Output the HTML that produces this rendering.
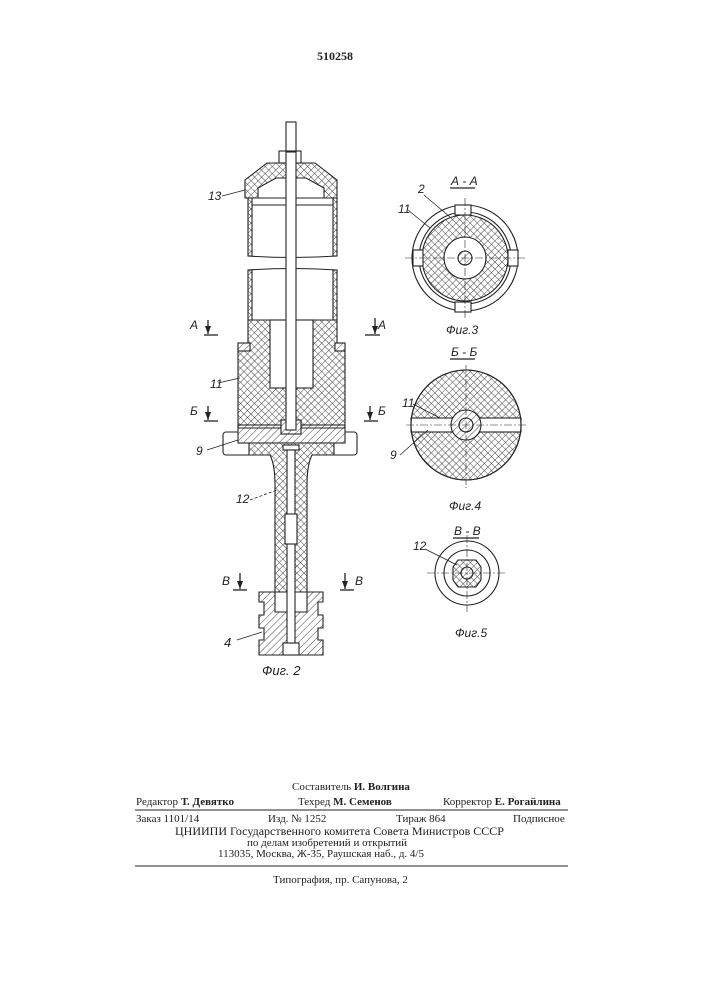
<!DOCTYPE html>
<html><head><meta charset="utf-8"><style>
html,body{margin:0;padding:0;background:#fff;}
body{width:707px;height:1000px;position:relative;overflow:hidden;font-family:"Liberation Serif","Noto Serif CJK SC",serif;color:#222;}
.t{position:absolute;font-size:11px;white-space:nowrap;line-height:12px;}
b{font-weight:bold;}
</style></head><body>
<svg width="707" height="1000" style="position:absolute;left:0;top:0" xmlns="http://www.w3.org/2000/svg">
<defs>
<pattern id="x" width="5" height="5" patternUnits="userSpaceOnUse" patternTransform="rotate(45)">
<rect width="5" height="5" fill="#fff"/><line x1="0" y1="0" x2="5" y2="0" stroke="#333" stroke-width="0.9"/><line x1="0" y1="0" x2="0" y2="5" stroke="#333" stroke-width="0.9"/></pattern>
<pattern id="h" width="5" height="5" patternUnits="userSpaceOnUse" patternTransform="rotate(45)">
<rect width="5" height="5" fill="#fff"/><line x1="0" y1="0" x2="0" y2="5" stroke="#333" stroke-width="0.9"/></pattern>
</defs>
<g stroke="#222" stroke-width="1.1" fill="none">
<rect x="286" y="122" width="10" height="30" fill="#fff"/>
<polygon points="267,163 315,163 337,180 337,198 245,198 245,180" fill="url(#x)"/>
<polygon points="258,188 276,178 306,178 324,188 324,198 258,198" fill="#fff"/>
<rect x="279" y="151" width="22" height="12" fill="#fff"/>
<rect x="248" y="198" width="4" height="58" fill="url(#x)"/>
<rect x="333" y="198" width="4" height="58" fill="url(#x)"/>
<line x1="252" y1="205" x2="333" y2="205"/>
<path d="M248,256 q44,3 89,0"/>
<path d="M248,270 q44,-3 89,0"/>
<rect x="248" y="270" width="4" height="50" fill="url(#x)"/>
<rect x="333" y="270" width="4" height="50" fill="url(#x)"/>
<polygon points="248,320 337,320 337,343 345,343 345,425 238,425 238,343 248,343" fill="url(#x)"/>
<rect x="270" y="320" width="43" height="68" fill="#fff"/>
<rect x="238" y="343" width="12" height="8" fill="url(#h)"/>
<rect x="335" y="343" width="10" height="8" fill="url(#h)"/>
<rect x="223" y="432" width="134" height="23" rx="3" fill="#fff"/>
<rect x="238" y="425" width="107" height="18" fill="url(#h)"/>
<line x1="238" y1="428" x2="345" y2="428"/>
<rect x="281" y="420" width="20" height="14" fill="url(#h)"/>
<path d="M249,443 L334,443 L334,455 L312,455 Q307,465 307,485 L307,592 L275,592 L275,485 Q275,465 270,455 L249,455 Z" fill="url(#x)"/>
<path d="M265,592 L275,592 L275,612 L307,612 L307,592 L323,592 L323,602 L318,602 L318,615 L323,615 L323,628 L318,628 L318,640 L323,640 L323,655 L259,655 L259,640 L264,640 L264,628 L259,628 L259,615 L264,615 L264,602 L259,602 L259,592 Z" fill="url(#h)"/>
<rect x="283" y="643" width="16" height="12" fill="#fff"/>
<rect x="286" y="152" width="10" height="278" fill="#fff"/>
<rect x="283" y="445" width="16" height="5" fill="#fff"/>
<rect x="287" y="450" width="8" height="193" fill="#fff"/>
<rect x="285" y="514" width="12" height="30" fill="#fff"/>
<g stroke-width="1.3">
<line x1="204" y1="335" x2="218" y2="335"/><line x1="208" y1="320" x2="208" y2="334"/>
<line x1="365" y1="335" x2="380" y2="335"/><line x1="375" y1="318" x2="375" y2="334"/>
<line x1="204" y1="421" x2="218" y2="421"/><line x1="208" y1="406" x2="208" y2="420"/>
<line x1="364" y1="421" x2="378" y2="421"/><line x1="370" y1="406" x2="370" y2="420"/>
<line x1="233" y1="590" x2="247" y2="590"/><line x1="240" y1="573" x2="240" y2="589"/>
<line x1="340" y1="590" x2="354" y2="590"/><line x1="345" y1="573" x2="345" y2="589"/>
</g>
<g fill="#222" stroke="none">
<polygon points="205,326 211,326 208,334"/><polygon points="372,326 378,326 375,334"/>
<polygon points="205,412 211,412 208,420"/><polygon points="367,412 373,412 370,420"/>
<polygon points="237,581 243,581 240,589"/><polygon points="342,581 348,581 345,589"/>
</g>
<line x1="222" y1="196" x2="245" y2="190" stroke-width="0.8"/>
<line x1="218" y1="383" x2="240" y2="378" stroke-width="0.8"/>
<line x1="207" y1="450" x2="238" y2="440" stroke-width="0.8"/>
<line x1="250" y1="500" x2="277" y2="490" stroke-width="0.8" stroke-dasharray="3,2"/>
<line x1="237" y1="640" x2="262" y2="632" stroke-width="0.8"/>
<circle cx="465" cy="258" r="53" fill="#fff"/>
<circle cx="465" cy="258" r="46" fill="#fff"/>
<circle cx="465" cy="258" r="43" fill="url(#x)"/>
<circle cx="465" cy="258" r="21" fill="#fff"/>
<circle cx="465" cy="258" r="7" fill="url(#h)"/>
<rect x="455" y="205" width="16" height="10" fill="#fff"/>
<rect x="455" y="302" width="16" height="10" fill="#fff"/>
<rect x="413" y="250" width="10" height="16" fill="#fff"/>
<rect x="508" y="250" width="10" height="16" fill="#fff"/>
<g stroke-width="0.6" stroke-dasharray="8,2,2,2"><line x1="465" y1="198" x2="465" y2="318"/><line x1="405" y1="258" x2="525" y2="258"/></g>
<line x1="450" y1="188" x2="475" y2="188" stroke-width="1.3"/>
<line x1="424" y1="195" x2="450" y2="217" stroke-width="0.8"/>
<line x1="408" y1="210" x2="430" y2="228" stroke-width="0.8"/>
<circle cx="466" cy="425" r="55" fill="url(#x)"/>
<rect x="411" y="418" width="110" height="14" fill="#fff"/>
<circle cx="466" cy="425" r="15" fill="url(#h)"/>
<circle cx="466" cy="425" r="7" fill="url(#h)"/>
<circle cx="466" cy="425" r="55"/>
<g stroke-width="0.6" stroke-dasharray="8,2,2,2"><line x1="466" y1="365" x2="466" y2="488"/><line x1="406" y1="425" x2="528" y2="425"/></g>
<line x1="450" y1="359" x2="475" y2="359" stroke-width="1.3"/>
<line x1="413" y1="404" x2="440" y2="418" stroke-width="0.8"/>
<line x1="400" y1="455" x2="428" y2="430" stroke-width="0.8"/>
<circle cx="467" cy="573" r="32" fill="#fff"/>
<circle cx="467" cy="573" r="23" fill="#fff"/>
<polygon points="458,560 476,560 481,567 481,580 476,587 458,587 453,580 453,567" fill="url(#x)"/>
<circle cx="467" cy="573" r="6" fill="url(#h)"/>
<g stroke-width="0.6" stroke-dasharray="8,2,2,2"><line x1="467" y1="535" x2="467" y2="612"/><line x1="427" y1="573" x2="507" y2="573"/></g>
<line x1="453" y1="538" x2="479" y2="538" stroke-width="1.3"/>
<line x1="425" y1="549" x2="457" y2="565" stroke-width="0.8"/>
<line x1="135" y1="810" x2="568" y2="810" stroke-width="1"/>
<line x1="135" y1="866" x2="568" y2="866" stroke-width="1"/>
</g>
<g font-family="Liberation Sans, sans-serif" font-style="italic" font-size="12" fill="#222">
<text x="208" y="200">13</text>
<text x="190" y="329">А</text><text x="378" y="329">А</text>
<text x="210" y="388">11</text>
<text x="190" y="415">Б</text><text x="378" y="415">Б</text>
<text x="196" y="455">9</text>
<text x="236" y="503">12</text>
<text x="222" y="585">В</text><text x="355" y="585">В</text>
<text x="224" y="647" font-size="13">4</text>
<text x="262" y="675" font-size="13">Фиг. 2</text>
<text x="451" y="185">А - А</text>
<text x="418" y="193">2</text>
<text x="398" y="213">11</text>
<text x="446" y="334">Фиг.3</text>
<text x="451" y="356">Б - Б</text>
<text x="402" y="407">11</text>
<text x="390" y="459">9</text>
<text x="449" y="510">Фиг.4</text>
<text x="454" y="535">В - В</text>
<text x="413" y="550">12</text>
<text x="455" y="637">Фиг.5</text>
</g>
<text x="335" y="60" font-family="Liberation Serif, serif" font-weight="bold" font-size="12" text-anchor="middle" fill="#222">510258</text>
</svg>
<div class="t" style="left:292px;top:781px">Составитель <b>И. Волгина</b></div>
<div class="t" style="left:136px;top:796px">Редактор <b>Т. Девятко</b></div>
<div class="t" style="left:298px;top:796px">Техред <b>М. Семенов</b></div>
<div class="t" style="left:443px;top:796px">Корректор <b>Е. Рогайлина</b></div>
<div class="t" style="left:136px;top:813px">Заказ 1101/14</div>
<div class="t" style="left:268px;top:813px">Изд. № 1252</div>
<div class="t" style="left:396px;top:813px">Тираж 864</div>
<div class="t" style="left:513px;top:813px">Подписное</div>
<div class="t" style="left:175px;top:825px;font-size:12px">ЦНИИПИ Государственного комитета Совета Министров СССР</div>
<div class="t" style="left:247px;top:837px">по делам изобретений и открытий</div>
<div class="t" style="left:218px;top:848px">113035, Москва, Ж-35, Раушская наб., д. 4/5</div>
<div class="t" style="left:273px;top:874px">Типография, пр. Сапунова, 2</div>
</body></html>
